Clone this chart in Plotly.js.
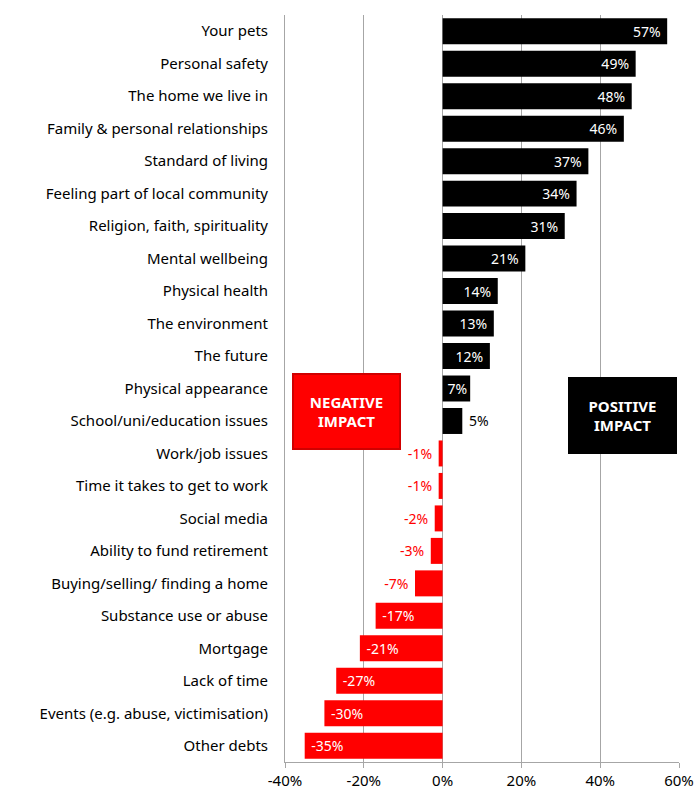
<!DOCTYPE html>
<html>
<head>
<meta charset="utf-8">
<script src="https://cdn.plot.ly/plotly-3.0.1.min.js"></script>
<style>html,body{margin:0;padding:0;background:#fff;}#chart{width:697px;height:791px;}</style>
</head>
<body>
<div id="chart"></div>
<script>
const categories = [
  "Your pets","Personal safety","The home we live in","Family & personal relationships",
  "Standard of living","Feeling part of local community","Religion, faith, spirituality",
  "Mental wellbeing","Physical health","The environment","The future","Physical appearance",
  "School/uni/education issues","Work/job issues","Time it takes to get to work","Social media",
  "Ability to fund retirement","Buying/selling/ finding a home","Substance use or abuse",
  "Mortgage","Lack of time","Events (e.g. abuse, victimisation)","Other debts"
];
const values = [57,49,48,46,37,34,31,21,14,13,12,7,5,-1,-1,-2,-3,-7,-17,-21,-27,-30,-35];
const xTickVals = [-40,-20,0,20,40,60];
const xTickText = ["-40%","-20%","0%","20%","40%","60%"];
const annotationTexts = ["NEGATIVE<br>IMPACT","POSITIVE<br>IMPACT"];

const NB = "\u00a0";
const inside = values.map(v => (v >= 7 || v <= -10));
const barColors = values.map(v => v >= 0 ? "#000000" : "#ff0000");
const textColors = values.map((v,i) => inside[i] ? "#ffffff" : (v >= 0 ? "#000000" : "#ff0000"));
const labels = values.map((v,i) => {
  const t = v + "%";
  if (inside[i]) {
    if (Math.abs(v) < 10) return t;
    return v >= 0 ? t + NB : NB + t;
  }
  return v >= 0 ? NB + t : t + NB;
});

const trace = {
  type: "bar",
  orientation: "h",
  y: categories,
  x: values,
  marker: {color: barColors},
  text: labels,
  textposition: inside.map(b => b ? "inside" : "outside"),
  insidetextanchor: "end",
  textfont: {family: "Noto Sans", size: 14, color: textColors},
  insidetextfont: {family: "Noto Sans", size: 14, color: textColors},
  outsidetextfont: {family: "Noto Sans", size: 14, color: textColors},
  constraintext: "none",
  cliponaxis: false,
  hoverinfo: "none"
};

const layout = {
  width: 697, height: 791,
  margin: {l: 285, r: 18, t: 15, b: 29},
  paper_bgcolor: "#ffffff", plot_bgcolor: "#ffffff",
  showlegend: false,
  bargap: 0.2,
  font: {family: "Noto Sans", size: 15, color: "#000000"},
  xaxis: {
    range: [-40, 60],
    tickvals: xTickVals, ticktext: xTickText,
    showgrid: true, gridcolor: "#a6a6a6", gridwidth: 1,
    zeroline: true, zerolinecolor: "#a6a6a6", zerolinewidth: 1,
    showline: true, linecolor: "#a6a6a6", linewidth: 1,
    ticks: "outside", ticklen: 5, tickcolor: "#a6a6a6",
    tickfont: {family: "Noto Sans", size: 15, color: "#000000"},
    fixedrange: true
  },
  yaxis: {
    type: "category",
    autorange: "reversed",
    showline: true, linecolor: "#a6a6a6", linewidth: 1,
    ticks: "", ticklabelstandoff: 13,
    tickfont: {family: "Noto Sans", size: 15, color: "#000000"},
    showgrid: false,
    fixedrange: true
  },
  annotations: [
    {x: -24.3, y: 11.7, xref: "x", yref: "y", text: "<b>" + annotationTexts[0] + "</b>",
     showarrow: false, width: 103, height: 71, bgcolor: "#ff0000", bordercolor: "#d00000", borderwidth: 2,
     font: {family: "Noto Sans", size: 15, color: "#ffffff"}, align: "center", valign: "middle"},
    {x: 45.6, y: 11.82, xref: "x", yref: "y", text: "<b>" + annotationTexts[1] + "</b>",
     showarrow: false, width: 107, height: 75, bgcolor: "#000000", borderwidth: 0,
     font: {family: "Noto Sans", size: 15, color: "#ffffff"}, align: "center", valign: "middle"}
  ]
};

Plotly.newPlot("chart", [trace], layout, {displayModeBar: false, staticPlot: true});
</script>
</body>
</html>
